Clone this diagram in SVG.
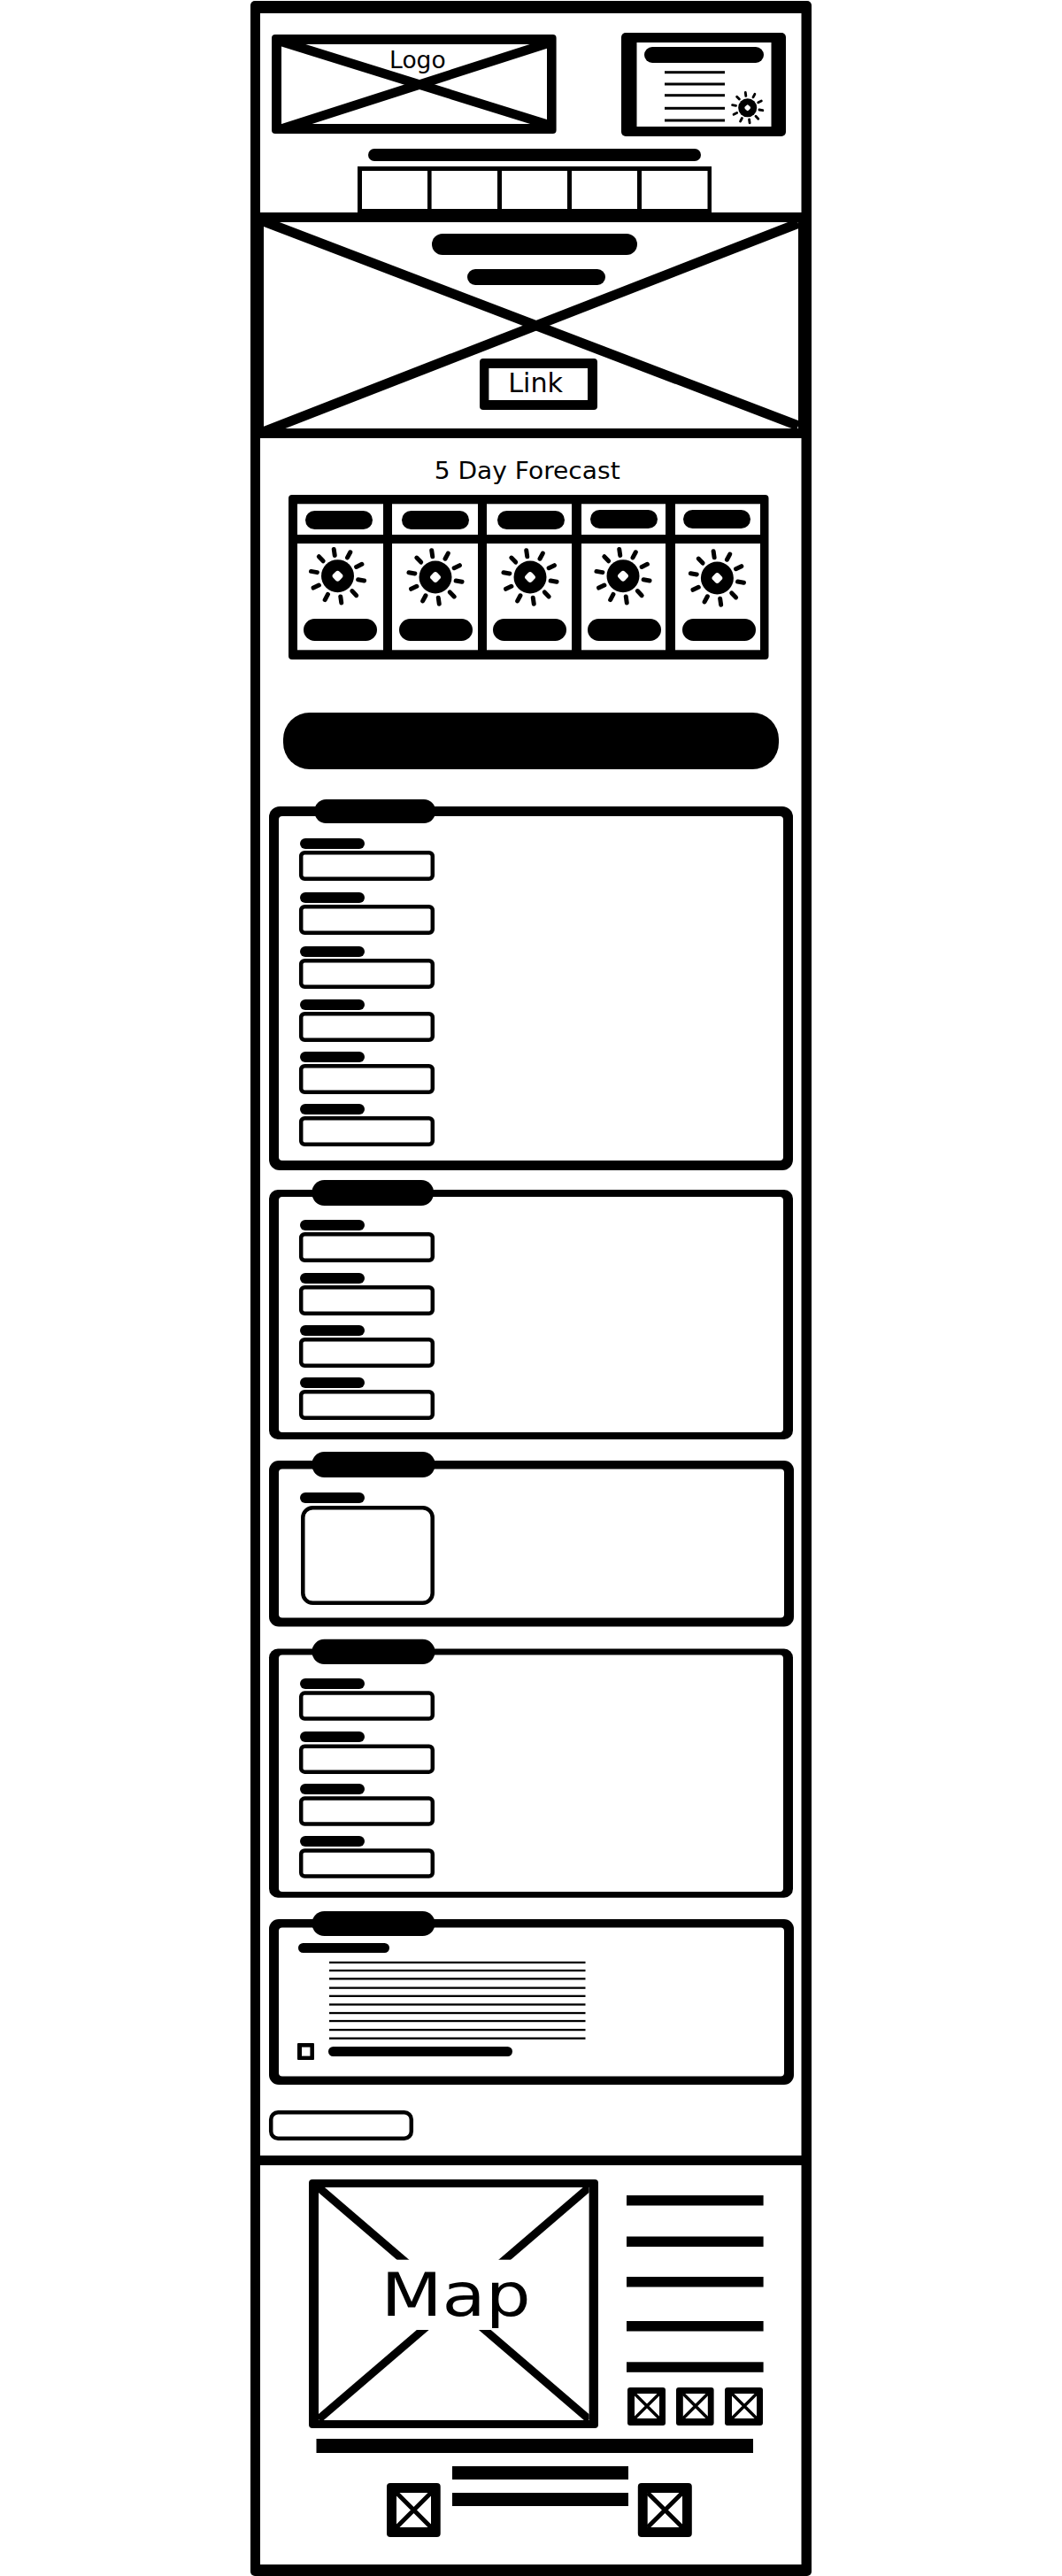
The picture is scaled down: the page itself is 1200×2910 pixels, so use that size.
<svg xmlns="http://www.w3.org/2000/svg" xmlns:xlink="http://www.w3.org/1999/xlink" width="1200" height="2910" viewBox="0 0 1200 2910">
<style>
.k{fill:#000}.w{fill:#fff}
.x{stroke:#000;fill:none}
.t{font-family:"DejaVu Sans",sans-serif;fill:#000}
.ray{stroke:#000;stroke-width:5;stroke-linecap:round;fill:none}
.in{fill:#fff;stroke:#000;stroke-width:4.500}
</style>
<defs>
<g id="sun">
<circle r="18.500" class="k"/><rect x="-5" y="-5" width="10" height="10" rx="3" class="w" transform="rotate(45)"/>
<g class="ray">
<line x1="23.500" x2="30.500" transform="rotate(10)"/><line x1="23.500" x2="30.500" transform="rotate(46)"/><line x1="23.500" x2="30.500" transform="rotate(82)"/><line x1="23.500" x2="30.500" transform="rotate(118)"/><line x1="23.500" x2="30.500" transform="rotate(154)"/><line x1="23.500" x2="30.500" transform="rotate(190)"/><line x1="23.500" x2="30.500" transform="rotate(226)"/><line x1="23.500" x2="30.500" transform="rotate(262)"/><line x1="23.500" x2="30.500" transform="rotate(298)"/><line x1="23.500" x2="30.500" transform="rotate(334)"/>
</g>
</g>
</defs>
<rect width="1200" height="2910" class="w"/>
<g id="page">
<rect x="283" y="1" width="634" height="2909" rx="5" class="k"/>
<rect x="294" y="15" width="611.500" height="2882" class="w"/>
</g>
<g id="logo">
<rect x="307" y="39" width="321.600" height="112" rx="4" class="k"/>
<rect x="318" y="50" width="300" height="90" class="w"/>
<clipPath id="logoClip"><rect x="318" y="50" width="300" height="90"/></clipPath>
<g clip-path="url(#logoClip)">
<line x1="318" y1="47" x2="618" y2="140.400" class="x" stroke-width="10.500"/>
<line x1="618" y1="49.300" x2="318" y2="145.600" class="x" stroke-width="10.500"/>
</g>
<text x="440.100" y="77.300" class="t" font-size="26.500">Logo</text>
</g>
<g id="weather-widget">
<rect x="702" y="37" width="186" height="117" rx="5" class="k"/>
<rect x="719.500" y="48" width="152" height="95" class="w"/>
<rect x="728" y="53" width="135" height="18" rx="9" class="k"/>
<rect x="751" y="80.200" width="68" height="3" class="k"/>
<rect x="751" y="93.500" width="68" height="3" class="k"/>
<rect x="751" y="106.200" width="68" height="3" class="k"/>
<rect x="751" y="120.800" width="68" height="3" class="k"/>
<rect x="751" y="134.500" width="68" height="3" class="k"/>
<use xlink:href="#sun" href="#sun" transform="translate(844.700 121.700) scale(.57)"/>
</g>
<g id="nav-title">
<rect x="416" y="168" width="376" height="14" rx="7" class="k"/>
</g>
<g id="nav">
<rect x="404" y="188" width="400" height="55" class="k"/>
<rect x="409" y="193" width="74" height="43" class="w"/>
<rect x="487.600" y="193" width="74.400" height="43" class="w"/>
<rect x="567" y="193" width="74" height="43" class="w"/>
<rect x="646" y="193" width="74" height="43" class="w"/>
<rect x="725" y="193" width="74.500" height="43" class="w"/>
</g>
<g id="hero">
<clipPath id="heroClip"><rect x="298" y="251" width="604" height="233"/></clipPath>
<rect x="283" y="240" width="634" height="11" class="k"/>
<rect x="283" y="484" width="634" height="11" class="k"/>
<rect x="294" y="251" width="4" height="233" class="k"/>
<rect x="902" y="251" width="4" height="233" class="k"/>
<g clip-path="url(#heroClip)">
<line x1="297.800" y1="250" x2="902" y2="481" class="x" stroke-width="11"/>
<line x1="297.800" y1="487.700" x2="902" y2="252.300" class="x" stroke-width="11"/>
</g>
<rect x="488" y="264" width="232" height="24" rx="12" class="k"/>
<rect x="528" y="304" width="156" height="18" rx="9" class="k"/>
</g>
<g id="link">
<rect x="542" y="405" width="133" height="58" rx="4" class="k"/>
<rect x="552.400" y="416" width="111.600" height="36" class="w"/>
<text transform="translate(574.300 443.300) scale(1.030 1)" class="t" font-size="29.300">Link</text>
</g>
<g id="forecast">
<text transform="translate(490.700 541) scale(1.025 1)" class="t" font-size="27.400">5 Day Forecast</text>
<rect x="326" y="559" width="542.500" height="186" rx="4" class="k"/>
<rect x="336" y="569.300" width="97" height="34.700" class="w"/>
<rect x="443" y="569.300" width="97" height="34.700" class="w"/>
<rect x="550" y="569.300" width="96" height="34.700" class="w"/>
<rect x="657" y="569.300" width="95" height="34.700" class="w"/>
<rect x="763" y="569.300" width="96" height="34.700" class="w"/>
<rect x="336" y="614" width="97" height="120.300" class="w"/>
<rect x="443" y="614" width="97" height="120.300" class="w"/>
<rect x="550" y="614" width="96" height="120.300" class="w"/>
<rect x="657" y="614" width="95" height="120.300" class="w"/>
<rect x="763" y="614" width="96" height="120.300" class="w"/>
<rect x="345" y="577" width="76" height="21" rx="10.500" class="k"/>
<rect x="454" y="577" width="76" height="21" rx="10.500" class="k"/>
<rect x="562" y="577" width="76" height="21" rx="10.500" class="k"/>
<rect x="667" y="576" width="76" height="21" rx="10.500" class="k"/>
<rect x="772" y="576" width="76" height="21" rx="10.500" class="k"/>
<use xlink:href="#sun" href="#sun" transform="translate(381.500 650.700)"/>
<use xlink:href="#sun" href="#sun" transform="translate(492 652)"/>
<use xlink:href="#sun" href="#sun" transform="translate(599 652)"/>
<use xlink:href="#sun" href="#sun" transform="translate(704 650.700)"/>
<use xlink:href="#sun" href="#sun" transform="translate(810.400 653)"/>
<rect x="343" y="699" width="83" height="25" rx="12.500" class="k"/>
<rect x="451" y="699" width="83" height="25" rx="12.500" class="k"/>
<rect x="557" y="699" width="83" height="25" rx="12.500" class="k"/>
<rect x="664" y="699" width="83" height="25" rx="12.500" class="k"/>
<rect x="771" y="699" width="83" height="25" rx="12.500" class="k"/>
</g>
<g id="page-title"><rect x="320" y="805" width="560" height="64" rx="30" class="k"/></g>
<g id="section-1">
<rect x="304" y="911" width="592" height="411" rx="12" class="k"/>
<rect x="315" y="922" width="570" height="389" rx="4" class="w"/>
<rect x="355.400" y="903" width="136.600" height="27" rx="13" class="k"/>
<rect x="339" y="947" width="73" height="12" rx="6" class="k"/><rect x="340.200" y="963.200" width="148.600" height="29.600" rx="4" class="in"/>
<rect x="339" y="1008" width="73" height="12" rx="6" class="k"/><rect x="340.200" y="1024.200" width="148.600" height="29.600" rx="4" class="in"/>
<rect x="339" y="1069" width="73" height="12" rx="6" class="k"/><rect x="340.200" y="1085.200" width="148.600" height="29.600" rx="4" class="in"/>
<rect x="339" y="1129" width="73" height="12" rx="6" class="k"/><rect x="340.200" y="1145.200" width="148.600" height="29.600" rx="4" class="in"/>
<rect x="339" y="1188" width="73" height="12" rx="6" class="k"/><rect x="340.200" y="1204.200" width="148.600" height="29.600" rx="4" class="in"/>
<rect x="339" y="1247" width="73" height="12" rx="6" class="k"/><rect x="340.200" y="1263.200" width="148.600" height="29.600" rx="4" class="in"/>
</g>
<g id="section-2">
<rect x="304" y="1344" width="592" height="282" rx="10" class="k"/>
<rect x="315" y="1352" width="570" height="266" rx="4" class="w"/>
<rect x="352.500" y="1333" width="137.500" height="29" rx="14" class="k"/>
<rect x="339" y="1378" width="73" height="12" rx="6" class="k"/><rect x="340.200" y="1394.200" width="148.600" height="29.600" rx="4" class="in"/>
<rect x="339" y="1438" width="73" height="12" rx="6" class="k"/><rect x="340.200" y="1454.200" width="148.600" height="29.600" rx="4" class="in"/>
<rect x="339" y="1497" width="73" height="12" rx="6" class="k"/><rect x="340.200" y="1513.200" width="148.600" height="29.600" rx="4" class="in"/>
<rect x="339" y="1556" width="73" height="12" rx="6" class="k"/><rect x="340.200" y="1572.200" width="148.600" height="29.600" rx="4" class="in"/>
</g>
<g id="section-3">
<rect x="304" y="1650" width="593" height="187.500" rx="11" class="k"/>
<rect x="315" y="1659.500" width="571" height="168" rx="4" class="w"/>
<rect x="352.500" y="1640" width="139" height="29" rx="14" class="k"/>
<rect x="339" y="1686" width="73" height="12" rx="6" class="k"/>
<rect x="342.300" y="1703.300" width="146.400" height="107.400" rx="11" class="in"/>
</g>
<g id="section-4">
<rect x="304" y="1862.500" width="592" height="281.300" rx="10" class="k"/>
<rect x="315" y="1869.500" width="570" height="267.500" rx="4" class="w"/>
<rect x="352.500" y="1851.800" width="139" height="28.200" rx="14" class="k"/>
<rect x="339" y="1896" width="73" height="12" rx="6" class="k"/><rect x="340.200" y="1912.600" width="148.600" height="29" rx="4" class="in"/>
<rect x="339" y="1956" width="73" height="12" rx="6" class="k"/><rect x="340.200" y="1972.700" width="148.600" height="29" rx="4" class="in"/>
<rect x="339" y="2015" width="73" height="12" rx="6" class="k"/><rect x="340.200" y="2031.600" width="148.600" height="29" rx="4" class="in"/>
<rect x="339" y="2074" width="73" height="12" rx="6" class="k"/><rect x="340.200" y="2090.500" width="148.600" height="29" rx="4" class="in"/>
</g>
<g id="section-5">
<rect x="304" y="2168" width="593" height="187" rx="11" class="k"/>
<rect x="315" y="2177.500" width="571" height="168" rx="4" class="w"/>
<rect x="352.500" y="2159" width="139" height="28" rx="14" class="k"/>
<rect x="337" y="2195" width="103" height="11" rx="5.500" class="k"/>
<g id="text-lines">
<rect x="372" y="2215.800" width="289.500" height="2.300" class="k"/>
<rect x="372" y="2224.900" width="289.500" height="2.300" class="k"/>
<rect x="372" y="2234.200" width="289.500" height="2.300" class="k"/>
<rect x="372" y="2244.500" width="289.500" height="2.300" class="k"/>
<rect x="372" y="2253.700" width="289.500" height="2.300" class="k"/>
<rect x="372" y="2263.300" width="289.500" height="2.300" class="k"/>
<rect x="372" y="2272.900" width="289.500" height="2.300" class="k"/>
<rect x="372" y="2281.900" width="289.500" height="2.300" class="k"/>
<rect x="372" y="2291.900" width="289.500" height="2.300" class="k"/>
<rect x="372" y="2301.500" width="289.500" height="2.300" class="k"/>
</g>
<rect x="336" y="2308" width="19" height="19" rx="1" class="k"/>
<rect x="341" y="2312.600" width="9.400" height="10" class="w"/>
<rect x="371" y="2312" width="208" height="11" rx="5.500" class="k"/>
</g>
<g id="submit-button">
<rect x="306.200" y="2386.300" width="158.600" height="29.500" rx="8" class="in"/>
</g>
<g id="footer">
<rect x="283" y="2435" width="634" height="11" class="k"/>
<g id="map">
<rect x="349" y="2462" width="327" height="281" rx="4" class="k"/>
<rect x="360" y="2471" width="305.600" height="263" class="w"/>
<clipPath id="mapClip"><rect x="360" y="2471" width="305.600" height="263"/></clipPath>
<g clip-path="url(#mapClip)">
<line x1="360" y1="2471" x2="665.600" y2="2733" class="x" stroke-width="9"/>
<line x1="360" y1="2733" x2="665.600" y2="2471" class="x" stroke-width="9"/>
</g>
<rect x="410" y="2552.700" width="205" height="79.300" class="w"/>
<text transform="translate(430.400 2616) scale(1.185 1)" class="t" font-size="67.700">Map</text>
</g>
<g id="footer-links">
<rect x="708" y="2480" width="154.600" height="11.500" class="k"/>
<rect x="708" y="2526.500" width="154.600" height="11.500" class="k"/>
<rect x="708" y="2572" width="154.600" height="11.500" class="k"/>
<rect x="708" y="2622" width="154.600" height="11.500" class="k"/>
<rect x="708" y="2668.300" width="154.600" height="11.500" class="k"/>
</g>
<g id="social-1">
<rect x="709" y="2697" width="43" height="43" rx="3" class="k"/><rect x="717" y="2704" width="28" height="28" class="w"/>
<path d="M717 2704L745 2732M745 2704L717 2732" class="x" stroke-width="3.500"/>
</g>
<g id="social-2">
<rect x="764" y="2697" width="42.600" height="43" rx="3" class="k"/><rect x="771.800" y="2704" width="28" height="28" class="w"/>
<path d="M771.800 2704L799.800 2732M799.800 2704L771.800 2732" class="x" stroke-width="3.500"/>
</g>
<g id="social-3">
<rect x="819" y="2697" width="43" height="43" rx="3" class="k"/><rect x="827" y="2704" width="28" height="28" class="w"/>
<path d="M827 2704L855 2732M855 2704L827 2732" class="x" stroke-width="3.500"/>
</g>
<rect x="357.500" y="2755" width="493.500" height="16" class="k"/>
<rect x="511" y="2786" width="199" height="15" class="k"/>
<rect x="511" y="2816" width="199" height="15" class="k"/>
<g id="badge-1">
<rect x="437" y="2805" width="60.700" height="61" rx="4" class="k"/><rect x="448" y="2816" width="39" height="39" class="w"/>
<path d="M448 2816L487 2855M487 2816L448 2855" class="x" stroke-width="5"/>
</g>
<g id="badge-2">
<rect x="720.800" y="2805" width="61" height="61" rx="4" class="k"/><rect x="731.700" y="2816" width="39.300" height="39" class="w"/>
<path d="M731.700 2816L771 2855M771 2816L731.700 2855" class="x" stroke-width="5"/>
</g>
</g>
</svg>
